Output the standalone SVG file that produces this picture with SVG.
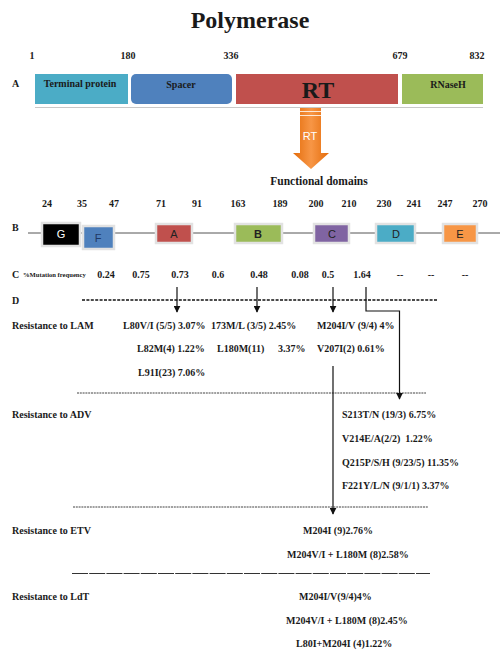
<svg xmlns="http://www.w3.org/2000/svg" width="500" height="652" viewBox="0 0 500 652">
<defs>
<style>
.t{font-family:"Liberation Serif","Times New Roman",serif;font-weight:bold;fill:#1a1a1a}
.s10{font-size:10px}
.mid{text-anchor:middle}
.lab{font-family:"Liberation Sans",Arial,sans-serif;font-size:11px;text-anchor:middle;fill:#222}
.ln{stroke:#111;stroke-width:1.2;fill:none}
.box{stroke:#e2e2e2;stroke-width:2.5}
</style>
<marker id="ah" viewBox="0 0 10 10" refX="9" refY="5" markerWidth="7" markerHeight="7" markerUnits="userSpaceOnUse" orient="auto">
<path d="M0,0 L10,5 L0,10 z" fill="#111"/>
</marker>
<linearGradient id="og" x1="0" y1="0" x2="1" y2="0">
<stop offset="0" stop-color="#E46C0A"/>
<stop offset="0.5" stop-color="#F79646"/>
<stop offset="1" stop-color="#E46C0A"/>
</linearGradient>
</defs>
<rect width="500" height="652" fill="#fff"/>

<text class="t mid" x="250" y="28" font-size="24">Polymerase</text>

<g id="sectionA">
<g class="t s10">
<text x="32" y="59" class="mid">1</text>
<text x="128" y="59" class="mid">180</text>
<text x="231" y="59" class="mid">336</text>
<text x="400" y="59" class="mid">679</text>
<text x="477" y="59" class="mid">832</text>
<text x="12" y="87">A</text>
</g>
<line x1="35" y1="107.5" x2="483" y2="107.5" stroke="#c8c8c8" stroke-width="1.2"/>
<g id="terminal-protein"><rect x="35" y="74" width="93" height="30" fill="#4BACC6"/><text class="t s10 mid" x="80" y="87">Terminal protein</text></g>
<g id="spacer"><rect x="131" y="74" width="101" height="30" rx="5" fill="#4F81BD"/><text class="t s10 mid" x="181" y="88">Spacer</text></g>
<g id="rt"><rect x="236" y="74" width="162" height="30" fill="#C0504D"/><text class="t mid" x="318" y="98" font-size="24">RT</text></g>
<g id="rnaseh"><rect x="402" y="74" width="81" height="30" fill="#9BBB59"/><text class="t s10 mid" x="448" y="88">RNaseH</text></g>
</g>

<g id="rt-arrow">
<path d="M300,108 H321 V153 H329 L311,169 L293,153 H300 Z" fill="url(#og)"/>
<line x1="300" y1="111.5" x2="321" y2="111.5" stroke="#fff" stroke-width="0.8"/>
<line x1="300" y1="115.5" x2="321" y2="115.5" stroke="#fff" stroke-width="0.8"/>
<text x="310" y="140" font-family="Liberation Sans,Arial,sans-serif" font-size="11" fill="#fff" text-anchor="middle">RT</text>
</g>
<text class="t mid" x="319" y="185" font-size="11.5">Functional domains</text>

<g id="sectionB">
<g class="t s10 mid">
<text x="47" y="207">24</text><text x="82" y="207">35</text><text x="114" y="207">47</text>
<text x="161" y="207">71</text><text x="197" y="207">91</text><text x="238" y="207">163</text>
<text x="280" y="207">189</text><text x="316" y="207">200</text><text x="349" y="207">210</text>
<text x="384" y="207">230</text><text x="414" y="207">241</text><text x="445" y="207">247</text>
<text x="480" y="207">270</text>
</g>
<text class="t s10" x="12" y="231">B</text>
<line x1="28" y1="233" x2="500" y2="233" stroke="#555" stroke-width="1"/>
<g id="dom-G"><rect class="box" x="42" y="223" width="38" height="23" fill="#000"/><text class="lab" x="61" y="238" style="fill:#fff">G</text></g>
<g id="dom-F"><rect class="box" x="83" y="226" width="31" height="23" fill="#4F81BD"/><text class="lab" x="98" y="242" style="fill:#1F3864">F</text></g>
<g id="dom-A"><rect class="box" x="156" y="224" width="36" height="19" fill="#C0504D"/><text class="lab" x="174" y="238">A</text></g>
<g id="dom-B"><rect class="box" x="235" y="224" width="47" height="19" fill="#9BBB59"/><text class="lab" x="258" y="238" font-weight="bold">B</text></g>
<g id="dom-C"><rect class="box" x="314" y="224" width="35" height="19" fill="#8064A2"/><text class="lab" x="332" y="238">C</text></g>
<g id="dom-D"><rect class="box" x="376" y="224" width="39" height="19" fill="#4BACC6"/><text class="lab" x="396" y="238">D</text></g>
<g id="dom-E"><rect class="box" x="443" y="224" width="34" height="19" fill="#F79646"/><text class="lab" x="460" y="238">E</text></g>
</g>

<g id="sectionC" class="t">
<text class="s10" x="12" y="278">C</text>
<text x="23" y="277" font-size="6.6">%Mutation frequency</text>
<g class="s10 mid">
<text x="106" y="278">0.24</text><text x="141" y="278">0.75</text><text x="180" y="278">0.73</text>
<text x="218" y="278">0.6</text><text x="259" y="278">0.48</text><text x="300" y="278">0.08</text>
<text x="328" y="278">0.5</text><text x="362" y="278">1.64</text>
<text x="400" y="278">--</text><text x="431" y="278">--</text><text x="465" y="278">--</text>
</g>
</g>

<text class="t s10" x="12" y="304">D</text>
<g id="separators" fill="none" stroke="#111">
<line x1="82" y1="300" x2="437" y2="300" stroke-width="1.3" stroke-dasharray="3 1.4"/>
<line x1="77" y1="393" x2="426" y2="393" stroke-width="0.8" stroke-dasharray="2 0.8"/>
<line x1="73" y1="507" x2="428" y2="507" stroke-width="0.8" stroke-dasharray="2 0.8"/>
<line x1="72" y1="573.5" x2="430" y2="573.5" stroke-width="1.1" stroke="#333" stroke-dasharray="16 1.2"/>
</g>

<g id="connectors" class="ln">
<line x1="177" y1="287" x2="177" y2="312" marker-end="url(#ah)"/>
<line x1="257" y1="287" x2="257" y2="312" marker-end="url(#ah)"/>
<line x1="333" y1="287" x2="333" y2="312" marker-end="url(#ah)"/>
<polyline points="366,287 366,311 399.5,311 399.5,399" marker-end="url(#ah)"/>
<line x1="333" y1="366" x2="333" y2="514" marker-end="url(#ah)"/>
</g>

<g id="lam" class="t s10">
<text x="12" y="329">Resistance to LAM</text>
<text x="123" y="329">L80V/I (5/5) 3.07%</text>
<text x="211" y="329">173M/L (3/5) 2.45%</text>
<text x="317" y="329">M204I/V (9/4) 4%</text>
<text x="137" y="352">L82M(4) 1.22%</text>
<text x="217" y="352">L180M(11)</text>
<text x="278" y="352">3.37%</text>
<text x="317" y="352">V207I(2) 0.61%</text>
<text x="138" y="376">L91I(23) 7.06%</text>
</g>

<g id="adv" class="t s10">
<text x="12" y="418">Resistance to ADV</text>
<text x="342" y="418">S213T/N (19/3) 6.75%</text>
<text x="342" y="442" xml:space="preserve">V214E/A(2/2)  1.22%</text>
<text x="342" y="466">Q215P/S/H (9/23/5) 11.35%</text>
<text x="342" y="489">F221Y/L/N (9/1/1) 3.37%</text>
</g>

<g id="etv" class="t s10">
<text x="12" y="534">Resistance to ETV</text>
<text x="303" y="534">M204I (9)2.76%</text>
<text x="287" y="558">M204V/I + L180M (8)2.58%</text>
</g>

<g id="ldt" class="t s10">
<text x="12" y="600">Resistance to LdT</text>
<text x="299" y="600">M204I/V(9/4)4%</text>
<text x="286" y="624">M204V/I + L180M (8)2.45%</text>
<text x="296" y="647">L80I+M204I (4)1.22%</text>
</g>
</svg>
